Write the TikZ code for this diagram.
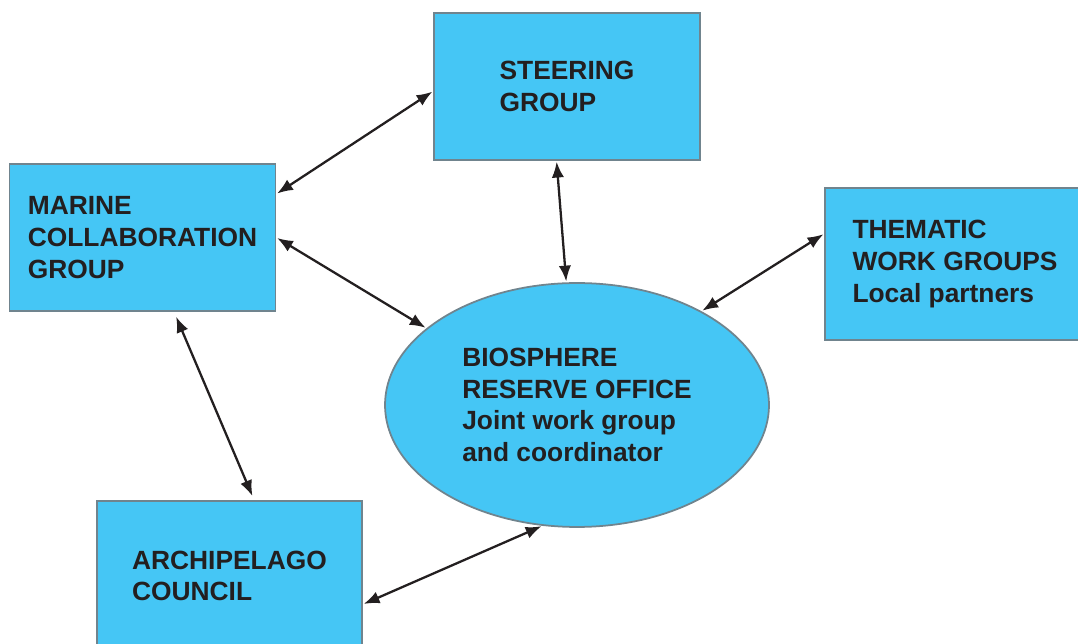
\documentclass[tikz,border=0pt]{standalone}
\usepackage{fontspec}
\setmainfont{Liberation Sans}
\usetikzlibrary{shapes.geometric,arrows.meta}
\definecolor{boxblue}{RGB}{69,198,245}
\definecolor{boxedge}{RGB}{112,132,142}
\definecolor{inkdark}{RGB}{35,31,32}
\begin{document}
\begin{tikzpicture}[x=0.02cm, y=-0.02cm]
    \tikzstyle{group} = [rectangle, draw=boxedge, line width=1pt, fill=boxblue, minimum width=5.32cm, minimum height=2.94cm, align=left, text=inkdark, font=\fontsize{15}{18}\selectfont\bfseries]
    \tikzstyle{office} = [ellipse, draw=boxedge, line width=1pt, fill=boxblue, minimum width=7.68cm, minimum height=4.88cm, align=left, text=inkdark, font=\fontsize{15}{18}\selectfont\bfseries]
    \tikzstyle{link} = [draw=inkdark, line width=1.3pt, {Latex[length=9pt,width=7pt]}-{Latex[length=9pt,width=7pt]}, shorten <=0.5pt, shorten >=0.5pt]

    \useasboundingbox (0,0) rectangle (1078,644);

    \node [group] (steer) at (567,86.5) {STEERING\\GROUP};
    \node [group] (marine) at (142.5,237.5) {MARINE\\COLLABORATION\\GROUP};
    \node [group, minimum width=5.2cm, minimum height=3.04cm] (thematic) at (955,264) {THEMATIC\\WORK GROUPS\\Local partners};
    \node [group, minimum width=5.3cm, minimum height=3cm] (archi) at (229.5,576) {ARCHIPELAGO\\COUNCIL};
    \node [office] (bro) at (577,405) {BIOSPHERE\\RESERVE OFFICE\\Joint work group\\and coordinator};

    \draw [link] (steer.182) -- (marine.18);
    \draw [link] (steer.262) -- (bro.95);
    \draw [link] (marine.east) -- (bro.153);
    \draw [link, shorten <=3pt, shorten >=2.5pt] (marine.293) -- (archi.72);
    \draw [link] (thematic.167) -- (bro.37);
    \draw [link] (archi.348) -- (bro.254);
\end{tikzpicture}
\end{document}
